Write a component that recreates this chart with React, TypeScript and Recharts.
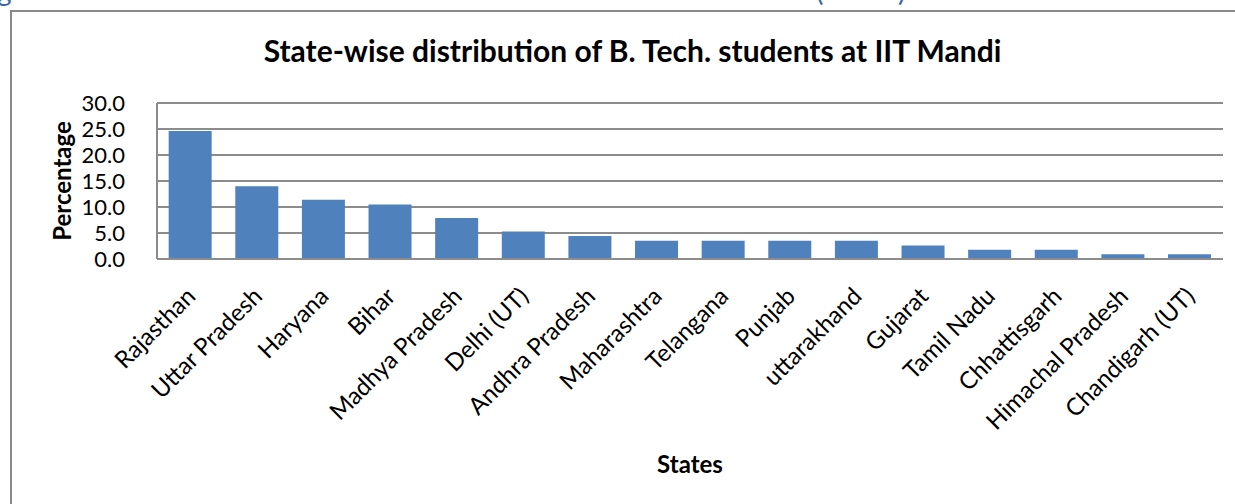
import { BarChart, Bar, XAxis, YAxis, CartesianGrid } from "recharts";

const states = [
  "Rajasthan",
  "Uttar Pradesh",
  "Haryana",
  "Bihar",
  "Madhya Pradesh",
  "Delhi (UT)",
  "Andhra Pradesh",
  "Maharashtra",
  "Telangana",
  "Punjab",
  "uttarakhand",
  "Gujarat",
  "Tamil Nadu",
  "Chhattisgarh",
  "Himachal Pradesh",
  "Chandigarh (UT)",
];
const percentages = [
  24.6, 14.0, 11.4, 10.5, 7.9, 5.3, 4.4, 3.5, 3.5, 3.5, 3.5, 2.6, 1.8, 1.8, 0.9,
  0.9,
];
const yTicks = [0, 5, 10, 15, 20, 25, 30];

const data = states.map((state, i) => ({ state, pct: percentages[i] }));

const FONT = "Lato, 'Open Sans', sans-serif";
const GRID = "#8c8c8c";

// rotated category label, right end sits under the bar
const StateTick = (props: any) => {
  const { x, y, payload } = props;
  const ax = x;
  const ay = y + 24;
  return (
    <text
      x={ax}
      y={ay}
      transform={`rotate(-45, ${ax}, ${ay})`}
      textAnchor="end"
      dominantBaseline="central"
      fontFamily={FONT}
      fontSize={24}
      fill="#000"
    >
      {payload.value}
    </text>
  );
};

export default function App() {
  return (
    <div
      style={{
        position: "fixed",
        left: 0,
        top: 0,
        width: 1235,
        height: 504,
        background: "#fff",
        overflow: "hidden",
      }}
    >
      {/* clipped heading fragment from the page above */}
      <div
        style={{
          position: "absolute",
          left: 0,
          top: 0,
          width: 1235,
          height: 8,
          overflow: "hidden",
          color: "#3a64a8",
          fontFamily: FONT,
          fontSize: 28,
        }}
      >
        <span style={{ position: "absolute", left: -3, top: -27 }}>g</span>
        <span style={{ position: "absolute", left: 816, top: -27 }}>(</span>
        <span style={{ position: "absolute", left: 898, top: -27 }}>)</span>
      </div>

      {/* chart frame */}
      <div
        style={{
          position: "absolute",
          left: 10,
          top: 10,
          width: 1240,
          height: 520,
          border: "2px solid #8a8a8a",
          boxSizing: "border-box",
        }}
      />

      <div
        style={{
          position: "absolute",
          left: 0,
          top: 32,
          width: 1265,
          textAlign: "center",
          fontFamily: FONT,
          fontWeight: 700,
          fontSize: 30,
          color: "#000",
        }}
      >
        State-wise distribution of B. Tech. students at IIT Mandi
      </div>

      <div
        style={{
          position: "absolute",
          left: 61,
          top: 181,
          transform: "translate(-50%, -50%) rotate(-90deg)",
          fontFamily: FONT,
          fontWeight: 700,
          fontSize: 24,
          color: "#000",
          whiteSpace: "nowrap",
        }}
      >
        Percentage
      </div>

      <div
        style={{
          position: "absolute",
          left: 690,
          top: 463,
          transform: "translate(-50%, -50%)",
          fontFamily: FONT,
          fontWeight: 700,
          fontSize: 24,
          color: "#000",
        }}
      >
        States
      </div>

      <div style={{ position: "absolute", left: 0, top: 0 }}>
        <BarChart
          width={1235}
          height={504}
          data={data}
          margin={{ top: 103, right: 12, bottom: 95, left: 57 }}
          barCategoryGap="17.5%"
        >
          <CartesianGrid vertical={false} stroke={GRID} strokeWidth={2} />
          <XAxis
            dataKey="state"
            interval={0}
            height={150}
            tickLine={false}
            axisLine={{ stroke: GRID, strokeWidth: 2 }}
            tick={<StateTick />}
          />
          <YAxis
            width={100}
            domain={[0, 30]}
            ticks={yTicks}
            interval={0}
            tickLine={false}
            axisLine={{ stroke: GRID, strokeWidth: 2 }}
            tickFormatter={(v: number) => v.toFixed(1)}
            tick={{ fontFamily: FONT, fontSize: 22, fill: "#000" }}
            tickMargin={26}
          />
          <Bar dataKey="pct" fill="#4f81bd" isAnimationActive={false} />
        </BarChart>
      </div>
    </div>
  );
}
